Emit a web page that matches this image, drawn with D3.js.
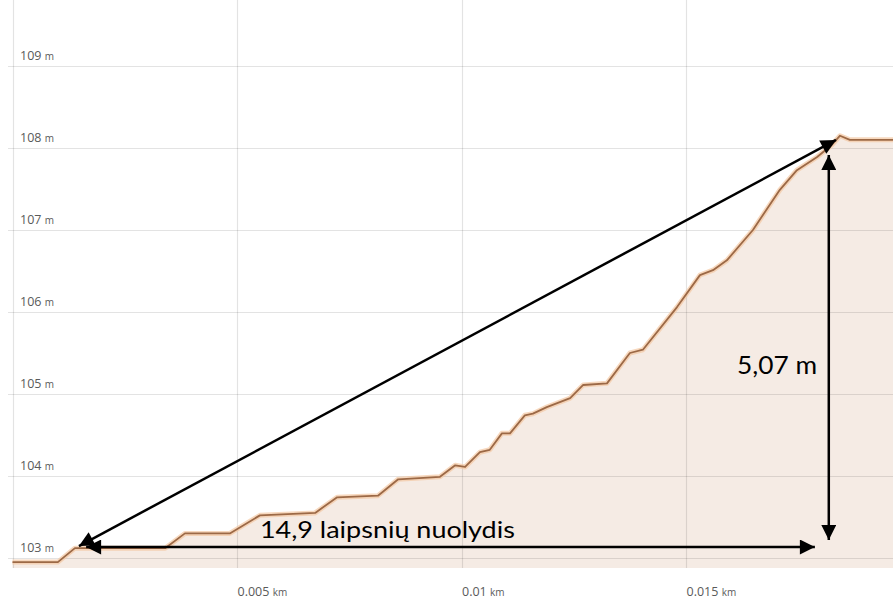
<!DOCTYPE html>
<html>
<head>
<meta charset="utf-8">
<script src="https://cdn.jsdelivr.net/npm/d3@7"></script>
<style>
  html, body { margin: 0; padding: 0; background: #fff; }
  svg { display: block; }
</style>
</head>
<body>
<svg id="chart" width="893" height="604"></svg>
<script>
// Distance along the profile (km)
const distanceKm = [0, 0.00101, 0.00139, 0.00340, 0.00384, 0.00484, 0.00551, 0.00674, 0.00723, 0.00814,
  0.00859, 0.00952, 0.00986, 0.01008, 0.01041, 0.01063, 0.01090, 0.01108, 0.01141, 0.01159,
  0.01190, 0.01242, 0.01271, 0.01324, 0.01375, 0.01404, 0.01480, 0.01531, 0.01560, 0.01591,
  0.01649, 0.01709, 0.01747, 0.01792, 0.01825, 0.01843, 0.01865, 0.01961];
// Elevation (m)
const elevationM = [102.95, 102.95, 103.12, 103.12, 103.30, 103.30, 103.52, 103.55, 103.74, 103.76,
  103.96, 103.99, 104.13, 104.11, 104.29, 104.32, 104.52, 104.52, 104.74, 104.76,
  104.84, 104.95, 105.11, 105.13, 105.50, 105.54, 106.06, 106.45, 106.51, 106.63,
  107.00, 107.49, 107.73, 107.89, 108.04, 108.15, 108.10, 108.10];

const yTicks = [103, 104, 105, 106, 107, 108, 109];
const xTicks = [0.005, 0.01, 0.015];
const xGridExtra = [0];

// Annotations (data coordinates)
const slopeArrow = [[0.00148, 103.146], [0.01834, 108.098]];
const runArrow = [[0.00164, 103.134], [0.01787, 103.134]];
const riseArrow = [[0.01818, 107.915], [0.01818, 103.22]];
const slopeText = "14,9 laipsnių nuolydis";
const slopeTextPos = [0.00551, 103.244];
const riseText = "5,07 m";
const riseTextPos = [0.01792, 105.244];

const svg = d3.select("#chart");
const W = 893, H = 604;
const x = d3.scaleLinear().domain([0, 0.01961]).range([12.5, 893]);
const y = d3.scaleLinear().domain([102.878, 109.805]).range([568, 0]);

const data = distanceKm.map((d, i) => ({ d, e: elevationM[i] }));

// area fill
const area = d3.area().x(p => x(p.d)).y0(y(102.878)).y1(p => y(p.e));
svg.append("path").datum(data).attr("d", area).attr("fill", "#f5ebe4");

// grid lines
const grid = svg.append("g");
grid.selectAll("line.h").data(yTicks).join("line")
  .attr("x1", 8).attr("x2", W)
  .attr("y1", d => Math.round(y(d)) + 0.5).attr("y2", d => Math.round(y(d)) + 0.5)
  .attr("stroke", "rgba(0,0,0,0.11)").attr("stroke-width", 1.2);
grid.selectAll("line.v").data(xGridExtra.concat(xTicks)).join("line")
  .attr("x1", d => Math.round(x(d)) + 0.5).attr("x2", d => Math.round(x(d)) + 0.5)
  .attr("y1", 0).attr("y2", 568)
  .attr("stroke", "rgba(0,0,0,0.11)").attr("stroke-width", 1.2);

// profile line with soft halo
const line = d3.line().x(p => x(p.d)).y(p => y(p.e));
svg.append("path").datum(data).attr("d", line)
  .attr("fill", "none").attr("stroke", "#f4c7a2").attr("stroke-width", 5).attr("stroke-linejoin", "round").attr("opacity", 0.7);
svg.append("path").datum(data).attr("d", line)
  .attr("fill", "none").attr("stroke", "#9c6946").attr("stroke-width", 1.8).attr("stroke-linejoin", "round");

// axis labels
const labelFont = "'Open Sans', 'DejaVu Sans', sans-serif";
const yl = svg.append("g").selectAll("text").data(yTicks).join("text")
  .attr("x", 20).attr("y", d => y(d) - 6)
  .attr("font-family", labelFont).attr("font-size", 12.5).attr("fill", "#5a5a5a");
yl.append("tspan").text(d => d + " ");
yl.append("tspan").attr("font-size", 10).text("m");

const xl = svg.append("g").selectAll("text").data(xTicks).join("text")
  .attr("x", d => x(d) + 0.5).attr("y", 596)
  .attr("font-family", labelFont).attr("font-size", 12.5).attr("fill", "#5a5a5a");
xl.append("tspan").text(d => d + " ");
xl.append("tspan").attr("font-size", 10).text("km");

// arrowhead marker
const defs = svg.append("defs");
defs.append("marker").attr("id", "ah")
  .attr("viewBox", "0 0 10 10").attr("refX", 10).attr("refY", 5)
  .attr("markerUnits", "userSpaceOnUse")
  .attr("markerWidth", 18).attr("markerHeight", 15)
  .attr("orient", "auto-start-reverse")
  .append("path").attr("d", "M0,0 L10,5 L0,10 Z").attr("fill", "#000");

const arrows = [slopeArrow, runArrow, riseArrow];
svg.append("g").selectAll("line").data(arrows).join("line")
  .attr("x1", a => x(a[0][0])).attr("y1", a => y(a[0][1]))
  .attr("x2", a => x(a[1][0])).attr("y2", a => y(a[1][1]))
  .attr("stroke", "#000").attr("stroke-width", 2.5)
  .attr("marker-start", "url(#ah)").attr("marker-end", "url(#ah)");

const annFont = "Lato, 'Open Sans', sans-serif";
svg.append("text").attr("x", x(slopeTextPos[0])).attr("y", y(slopeTextPos[1]))
  .attr("font-family", annFont).attr("font-size", 24).attr("fill", "#000")
  .attr("textLength", 255).attr("lengthAdjust", "spacingAndGlyphs")
  .text(slopeText);
svg.append("text").attr("x", x(riseTextPos[0])).attr("y", y(riseTextPos[1]))
  .attr("text-anchor", "end")
  .attr("font-family", annFont).attr("font-size", 25).attr("fill", "#000")
  .attr("textLength", 80).attr("lengthAdjust", "spacingAndGlyphs")
  .text(riseText);
</script>
</body>
</html>
